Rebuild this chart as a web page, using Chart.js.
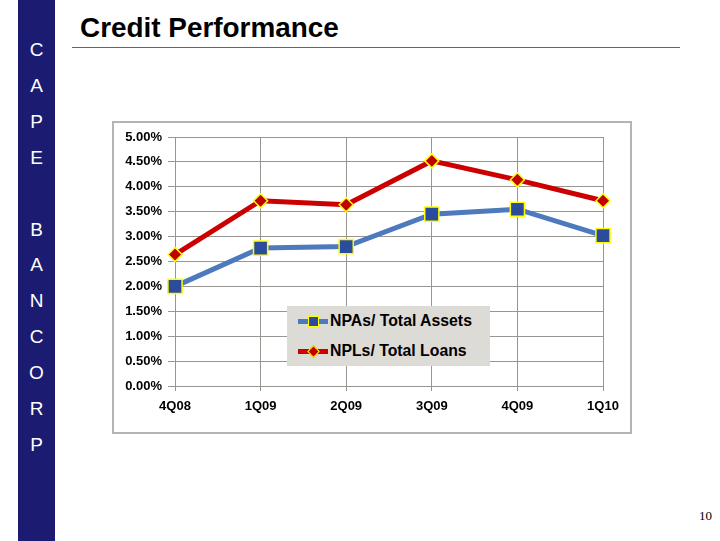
<!DOCTYPE html>
<html>
<head>
<meta charset="utf-8">
<script src="https://cdn.jsdelivr.net/npm/chart.js@4"></script>
<style>
  html, body { margin: 0; padding: 0; background: #fff; }
  body { width: 720px; height: 541px; position: relative; overflow: hidden; font-family: "Liberation Sans", Arial, sans-serif; }
  #side { position: absolute; left: 18px; top: 0; width: 37px; height: 541px; background: #1b1b72; }
  #side span { position: absolute; left: 0; width: 37px; text-align: center; color: #fff; font-size: 19px; line-height: 20px; }
  #title { position: absolute; left: 80px; top: 12px; font-size: 27.9px; font-weight: bold; color: #000; }
  #rule { position: absolute; left: 72px; top: 47px; width: 608px; height: 1px; background: #666; }
  #box { position: absolute; left: 112px; top: 121px; width: 516px; height: 309px; border: 2px solid #b4b4b4; }
  #legend { position: absolute; left: 287px; top: 306px; width: 203px; height: 60px; background: #dcdbd5; }
  .row { position: absolute; left: 11px; height: 20px; }
  .row .ln { position: absolute; left: 0; top: 8px; width: 30px; height: 5px; }
  .row .mk { position: absolute; box-sizing: border-box; border: 1.5px solid #ffff00; }
  .row .tx { position: absolute; left: 32px; top: 0px; font-size: 15.8px; line-height: 20px; font-weight: bold; white-space: nowrap; color: #000; }
  #page { position: absolute; left: 699px; top: 508px; font-family: "Liberation Serif", serif; font-size: 13px; color: #000; }
</style>
</head>
<body>
<div id="side"></div>
<div id="title">Credit Performance</div>
<div id="rule"></div>
<div id="box"><canvas id="chart" width="516" height="309"></canvas></div>
<div id="legend"></div>
<div id="page">10</div>
<script>
/* ── Дані ── */
var categories = ['4Q08', '1Q09', '2Q09', '3Q09', '4Q09', '1Q10'];
var npaValues  = [2.00, 2.77, 2.80, 3.45, 3.55, 3.02];
var nplValues  = [2.64, 3.72, 3.64, 4.52, 4.14, 3.72];
var yTicks     = [0, 0.5, 1, 1.5, 2, 2.5, 3, 3.5, 4, 4.5, 5];
var sideLetters = ['C', 'A', 'P', 'E', '', 'B', 'A', 'N', 'C', 'O', 'R', 'P'];

var seriesNames = ['NPAs/ Total Assets', 'NPLs/ Total Loans'];

/* ── Бокова смуга ── */
var side = document.getElementById('side');
sideLetters.forEach(function (ch, i) {
  var s = document.createElement('span');
  s.textContent = ch;
  s.style.top = (40 + i * 35.9) + 'px';
  side.appendChild(s);
});

/* ── Легенда ── */
var legend = document.getElementById('legend');
[
  { name: seriesNames[0], line: '#4d79bd', fill: '#2b4c9c', shape: 'sq' },
  { name: seriesNames[1], line: '#cc0000', fill: '#c00000', shape: 'dm' }
].forEach(function (it, i) {
  var row = document.createElement('div');
  row.className = 'row';
  row.style.top = (5 + i * 30) + 'px';
  var ln = document.createElement('div');
  ln.className = 'ln';
  ln.style.background = it.line;
  var mk = document.createElement('div');
  mk.className = 'mk';
  mk.style.background = it.fill;
  if (it.shape === 'sq') {
    mk.style.left = '10px'; mk.style.top = '5px'; mk.style.width = '11px'; mk.style.height = '11px';
  } else {
    mk.style.left = '11px'; mk.style.top = '6px'; mk.style.width = '9px'; mk.style.height = '9px';
    mk.style.transform = 'rotate(45deg)';
  }
  var tx = document.createElement('div');
  tx.className = 'tx';
  tx.textContent = it.name;
  row.appendChild(ln); row.appendChild(mk); row.appendChild(tx);
  legend.appendChild(row);
});

/* ── Графік ── */
var tickFont = { family: 'Liberation Sans', size: 13, weight: 'bold' };

new Chart(document.getElementById('chart'), {
  type: 'line',
  data: {
    labels: categories,
    datasets: [
      {
        label: seriesNames[0],
        data: npaValues,
        borderColor: '#4d79bd',
        borderWidth: 5,
        pointStyle: 'rect',
        pointRadius: 10,
        pointBackgroundColor: '#2b4c9c',
        pointBorderColor: '#ffff00',
        pointBorderWidth: 1.5,
        tension: 0,
        fill: false
      },
      {
        label: seriesNames[1],
        data: nplValues,
        borderColor: '#cc0000',
        borderWidth: 5,
        pointStyle: 'rectRot',
        pointRadius: 7,
        pointBackgroundColor: '#c00000',
        pointBorderColor: '#ffff00',
        pointBorderWidth: 1.5,
        tension: 0,
        fill: false
      }
    ]
  },
  options: {
    responsive: false,
    animation: false,
    devicePixelRatio: 1,
    layout: { padding: { left: 0, top: 14, right: 27, bottom: 0 } },
    plugins: { legend: { display: false }, tooltip: { enabled: false } },
    scales: {
      x: {
        offset: false,
        grid: { color: '#999591', lineWidth: 1, tickLength: 5 },
        border: { color: '#999591' },
        ticks: { color: '#000', font: tickFont, padding: 8, maxRotation: 0 },
        afterFit: function (s) { s.height = 46; }
      },
      y: {
        min: 0,
        max: 5,
        afterBuildTicks: function (s) { s.ticks = yTicks.map(function (v) { return { value: v }; }); },
        grid: { color: '#999591', lineWidth: 1, tickLength: 7 },
        border: { color: '#999591' },
        ticks: {
          color: '#000',
          autoSkip: false,
          font: tickFont,
          padding: 6,
          callback: function (v) { return v.toFixed(2) + '%'; }
        },
        afterFit: function (s) { s.width = 61; }
      }
    }
  }
});
</script>
</body>
</html>
